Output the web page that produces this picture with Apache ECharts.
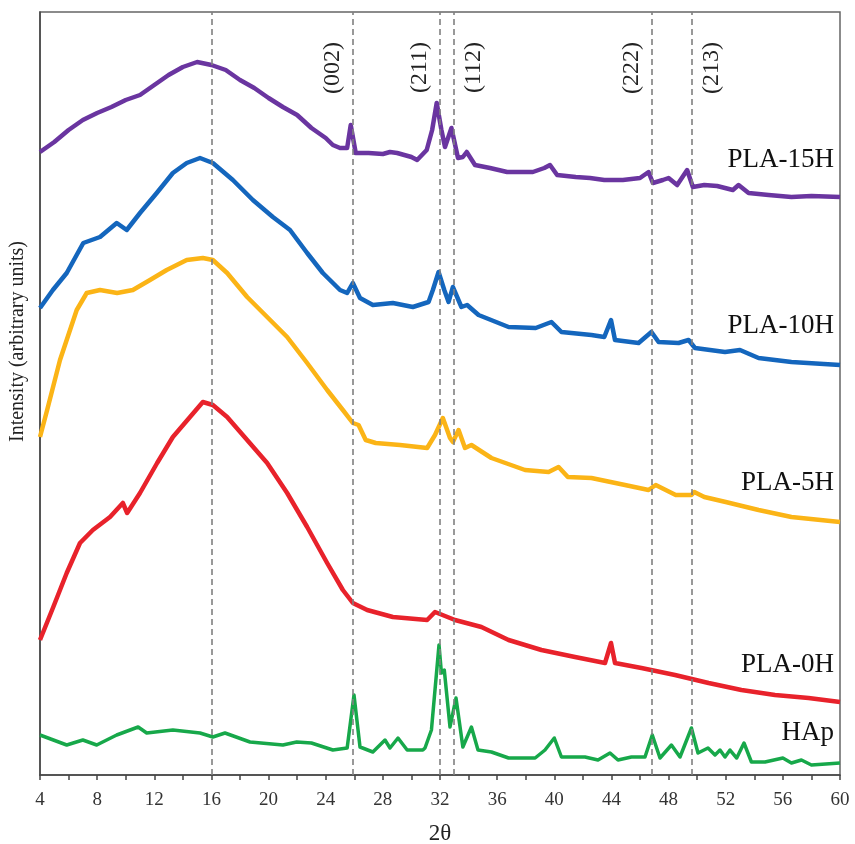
<!DOCTYPE html>
<html>
<head>
<meta charset="utf-8">
<script src="https://cdn.jsdelivr.net/npm/echarts@6/dist/echarts.min.js"></script>
<style>html,body{margin:0;padding:0;background:#fff}#c{width:855px;height:844px}</style>
</head>
<body>
<div id="c"></div>
<script>
// ---- data (2θ, intensity in arbitrary units) ----
const seriesNames = ['PLA-15H', 'PLA-10H', 'PLA-5H', 'PLA-0H', 'HAp'];

const pla15X = [4,5,6,7,8,9,10,11,12,13,14,15,16,17,18,19,20,21,22,23,24,24.5,25,25.5,25.75,26.1,27,28,28.5,29,30,30.4,31.07,31.45,31.77,32.1,32.35,32.8,33.26,33.6,33.87,34.45,35.5,36.7,38.5,39.3,39.7,40.2,41.5,42.5,43.5,44.8,46,46.6,46.9,47.6,48,48.6,49.3,49.7,50.5,51.4,52.5,52.9,53.6,55,56.6,58,60];
const pla15Y = [623,633,645,655,662,668,675,680,690,700,708,713,710,705,695,687,677,668,660,647,637,630,627,627,650,622,622,621,623,622,618,615,625,645,672,645,628,647,617,618,623,610,607,603,603,607,610,600,598,597,595,595,597,603,592,595,597,590,605,588,590,589,585,590,582,580,578,579,578];

const pla10X = [4,4.9,5.87,7.03,8.2,9.37,10.07,11,12.17,13.3,14.27,15.2,16.1,17.5,18.9,20.3,21.5,22.7,23.8,25,25.5,25.9,26.4,27.3,28.7,30.1,31.2,31.5,31.9,32.3,32.6,32.9,33.5,33.9,34.7,36.8,38.7,39.8,40.5,42.6,43.5,43.97,44.25,45.9,46.8,47.3,48.7,49.4,49.85,51.95,53,54.3,56.6,60];
const pla10Y = [467,485,502,532,538,552,545,562,582,602,612,617,612,595,575,558,545,522,502,485,482,492,477,470,472,468,473,485,503,485,473,488,468,470,460,448,447,453,443,440,438,455,435,432,443,433,432,435,427,423,425,417,413,410];

const pla5X = [4,4.5,5.4,6.57,7.27,8.2,9.4,10.5,11.7,12.87,14.27,15.4,16.1,17.1,18.5,19.9,21.3,22.7,24.1,25.2,25.9,26.3,26.8,27.5,29.2,31.1,31.65,32.2,32.7,32.9,33.3,33.75,34.2,35.6,37.95,39.6,40.3,40.95,42.6,44.95,46.6,47.1,48.5,49.6,49.8,50.5,52,54.3,56.6,60];
const pla5Y = [338,365,415,465,482,485,482,485,495,505,515,517,515,502,478,458,438,412,385,365,352,350,335,332,330,327,340,357,337,333,345,327,330,317,305,303,308,298,297,290,285,290,280,280,283,278,273,265,258,253];

const pla0X = [4,4.93,5.87,6.8,7.7,8.9,9.8,10.1,11,12.2,13.3,14.5,15.4,16.1,17.1,18.5,19.9,21.3,22.7,24.1,25.2,25.9,26.9,28.7,31.1,31.65,33.05,34.9,36.8,39.1,41.45,43.55,43.97,44.25,46.1,48.45,50.8,53.1,55.45,57.8,60];
const pla0Y = [135,168,202,232,245,258,272,262,282,312,338,358,373,370,358,335,312,282,248,212,185,172,165,158,155,163,155,148,135,125,118,112,132,112,107,100,92,85,80,77,73];

const hapX = [4,5.87,7,7.97,9.37,10.87,11.47,13.3,15.2,16.1,16.95,18.7,21,21.97,23,24.5,25.5,25.98,26.4,27.3,28.15,28.5,29.06,29.7,30.8,30.95,31.4,31.93,32.1,32.3,32.7,33.12,33.6,34.2,34.66,35.6,36.8,38.66,39.35,40,40.5,42.15,43.06,43.9,44.46,45.4,46.35,46.86,47.4,48.2,48.8,49.6,50.06,50.76,51.25,51.6,51.95,52.3,52.77,53.28,53.8,54.75,56,56.6,57.3,58,60];
const hapY = [40,30,35,30,40,48,42,45,42,38,42,33,30,33,32,25,27,80,28,23,35,27,37,25,25,27,45,130,102,105,48,77,28,48,25,23,17,17,25,37,18,18,15,22,15,18,18,40,17,30,18,47,22,27,20,25,18,25,17,32,13,13,17,12,15,10,12];

const peakPositions = [16, 25.9, 31.95, 32.95, 46.85, 49.65];
const peakLabels = ['', '(002)', '(211)', '(112)', '(222)', '(213)'];
const peakLabelSide = ['', 'insideEndTop', 'insideEndTop', 'insideEndBottom', 'insideEndTop', 'insideEndBottom'];

const xTicks = {min: 4, max: 60, step: 4};
const colors = ['#6a35a0', '#1466bd', '#fbb416', '#e8222b', '#17a84a'];

// ---- build chart ----
const SERIF = '"Liberation Serif", "DejaVu Serif", serif';
const zip = (xs, ys) => xs.map((x, i) => [x, ys[i]]);
const allData = [zip(pla15X, pla15Y), zip(pla10X, pla10Y), zip(pla5X, pla5Y), zip(pla0X, pla0Y), zip(hapX, hapY)];
const labelOffsets = [-35, -37, -37, -35, -28];
const lineWidths = [4.5, 4.5, 4.5, 4.5, 3.5];

const markLineData = peakPositions.map((p, i) => ({
  xAxis: p,
  label: peakLabels[i] ? {
    show: true, formatter: peakLabels[i], position: peakLabelSide[i],
    distance: [30, 8], fontFamily: SERIF, fontSize: 24, color: '#222'
  } : {show: false}
}));

const series = seriesNames.map((name, i) => {
  const s = {
    name, type: 'line', data: allData[i], showSymbol: false, symbol: 'none',
    lineStyle: {color: colors[i], width: lineWidths[i], join: 'round'}, itemStyle: {color: colors[i]},
    z: 3,
    endLabel: {
      show: true, formatter: name, align: 'right', verticalAlign: 'middle',
      distance: 0, offset: [-6, labelOffsets[i] - 2],
      fontFamily: SERIF, fontSize: 27, color: '#111'
    },
    animation: false
  };
  if (i === 0) {
    s.markLine = {
      silent: true, symbol: 'none', animation: false,
      lineStyle: {color: '#808080', width: 1.6, type: [6, 4]},
      data: markLineData
    };
  }
  return s;
});

const chart = echarts.init(document.getElementById('c'), null, {renderer: 'canvas'});
chart.setOption({
  animation: false,
  backgroundColor: '#fff',
  grid: {left: 40, right: 15, top: 12, bottom: 69, show: true, borderColor: '#666', borderWidth: 1.5,
         containLabel: false, outerBoundsMode: 'none'},
  xAxis: {
    type: 'value', min: xTicks.min, max: xTicks.max, interval: xTicks.step,
    name: '2θ', nameLocation: 'middle', nameGap: 47,
    nameTextStyle: {fontFamily: SERIF, fontSize: 23, color: '#222'},
    axisLine: {show: true, lineStyle: {color: '#444', width: 1.5}},
    axisTick: {show: true, inside: false, length: 5, lineStyle: {color: '#444', width: 1.5}},
    minorTick: {show: true, splitNumber: 2, length: 5, lineStyle: {color: '#444', width: 1.5}},
    axisLabel: {fontFamily: SERIF, fontSize: 19, color: '#333', margin: 16},
    splitLine: {show: false}
  },
  yAxis: {
    type: 'value', min: 0, max: 763,
    name: 'Intensity (arbitrary units)', nameLocation: 'middle', nameGap: 12,
    nameTextStyle: {fontFamily: SERIF, fontSize: 20, color: '#222', padding: [0, 0, 0, 104]},
    axisLine: {show: true, lineStyle: {color: '#444', width: 1.5}},
    axisTick: {show: false}, axisLabel: {show: false}, splitLine: {show: false}
  },
  series
});
</script>
</body>
</html>
